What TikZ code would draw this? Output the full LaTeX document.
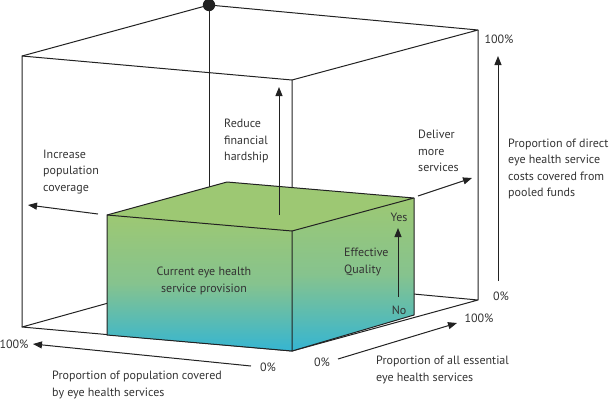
\documentclass[tikz,border=0pt]{standalone}
\usepackage{fontspec}
\setmainfont{PT Sans}
\usetikzlibrary{arrows.meta}
\definecolor{boxgreen}{HTML}{9DC873}
\definecolor{boxmid}{HTML}{86C38E}
\definecolor{boxcyan}{HTML}{35B5D2}
\definecolor{txt}{HTML}{333333}
\definecolor{edge}{HTML}{222222}
\begin{document}
\begin{tikzpicture}[x=1pt,y=-1pt,
  edgeline/.style={draw=edge,line width=1pt,line join=round},
  arr/.style={draw=edge,line width=1pt,-{Triangle[length=9pt,width=7pt]}},
  lbl/.style={font=\fontsize{12}{16.3}\selectfont,text=txt,inner sep=0pt,align=left},
  lblc/.style={font=\fontsize{12}{16.3}\selectfont,text=txt,inner sep=0pt,align=center}]
\useasboundingbox (0,0) rectangle (610,400);
% outer box corners
\coordinate (FTL) at (22,56);
\coordinate (FTR) at (292,80);
\coordinate (FBL) at (22,327);
\coordinate (O) at (292,351);
\coordinate (BTL) at (209,5);
\coordinate (BTR) at (478,30);
\coordinate (BBL) at (209,275);
\coordinate (BBR) at (478,300);
% green box corners
\coordinate (GFTL) at (107,215);
\coordinate (GFTR) at (292,231);
\coordinate (GFBL) at (107,335);
\coordinate (GBTL) at (227,182);
\coordinate (GBTR) at (414,198);
\coordinate (GBBR) at (414,315);
% outer box
\draw[edgeline] (FBL) -- (FTL) -- (FTR) -- (O);
\draw[edgeline] (FTL) -- (BTL) -- (BTR) -- (FTR);
\draw[edgeline] (BTR) -- (BBR) -- (BBL) -- (FBL) -- (O) -- (BBR);
\draw[edgeline] (BTL) -- (BBL);
% green box
\shade[top color=boxgreen,bottom color=boxcyan,middle color=boxmid] (GFTL) -- (GFTR) -- (O) -- (GFBL) -- cycle;
\shade[top color=boxgreen,bottom color=boxcyan,middle color=boxmid] (GFTR) -- (GBTR) -- (GBBR) -- (O) -- cycle;
\fill[boxgreen] (GFTL) -- (GBTL) -- (GBTR) -- (GFTR) -- cycle;
\draw[edgeline] (GFTL) -- (GFTR) -- (O) -- (GFBL) -- cycle;
\draw[edgeline] (GFTL) -- (GBTL) -- (GBTR) -- (GFTR);
\draw[edgeline] (GBTR) -- (GBBR) -- (O);
% dot
\fill[edge] (BTL) circle (6.2);
% arrows
\coordinate (incS) at (98,214);
\coordinate (incE) at (28,205);
\draw[arr] (incS) -- (incE);
\coordinate (redS) at (279,215);
\coordinate (redE) at (279,87);
\draw[arr] (redS) -- (redE);
\coordinate (delS) at (418,196);
\coordinate (delE) at (472,178);
\draw[arr] (delS) -- (delE);
\coordinate (costS) at (498,281);
\coordinate (costE) at (498,56);
\draw[arr] (costS) -- (costE);
\coordinate (qualS) at (398,297);
\coordinate (qualE) at (398,228);
\draw[arr] (qualS) -- (qualE);
\coordinate (servS) at (338,359);
\coordinate (servE) at (457,323);
\draw[arr] (servS) -- (servE);
\coordinate (popS) at (251,366);
\coordinate (popE) at (33,344);
\draw[arr] (popS) -- (popE);
% labels
\node[lbl,anchor=west] (inc) at (43,172) {Increase\\population\\coverage};
\node[lbl,anchor=west] (red) at (224,141) {Reduce\\financial\\hardship};
\node[lbl,anchor=west] (del) at (418,151) {Deliver\\more\\services};
\node[lbl,anchor=west] (cost) at (508,169) {Proportion of direct\\eye health service\\costs covered from\\pooled funds};
\node[lblc] (cur) at (204,281) {Current eye health\\service provision};
\node[lbl,anchor=west] (eff) at (344,262) {Effective\\Quality};
\node[lblc] (yes) at (399,217) {Yes};
\node[lblc] (no) at (399,310) {No};
\node[lblc] (c100) at (499,39) {100\%};
\node[lblc] (c0) at (501,296) {0\%};
\node[lblc] (s0) at (322,362) {0\%};
\node[lblc] (s100) at (479,318) {100\%};
\node[lbl,anchor=west] (serv) at (376,370) {Proportion of all essential\\eye health services};
\node[lblc] (p100) at (14,344) {100\%};
\node[lblc] (p0) at (268,367) {0\%};
\node[lbl,anchor=west] (pop) at (52,385) {Proportion of population covered\\by eye health services};
\end{tikzpicture}
\end{document}
